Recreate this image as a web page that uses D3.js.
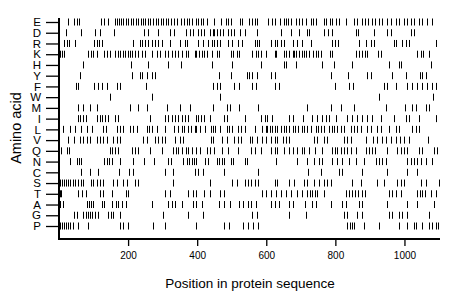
<!DOCTYPE html>
<meta charset="utf-8">
<svg width="460" height="299"></svg>
<script src="https://cdn.jsdelivr.net/npm/d3@7"></script>
<style>
  body { margin: 0; background: #fff; }
  * { font-family: 'Liberation Sans', Arial, sans-serif; }
</style>
<script>
// residues, top to bottom
var aminoAcids = ["E","D","R","K","H","Y","F","W","M","I","L","V","Q","N","C","S","T","A","G","P"];
var xTicks = [200, 400, 600, 800, 1000];
var seqLength = 1100;

// positions of each residue in the sequence
var posE = [26,43,52,58,121,130,141,162,167,173,179,185,193,199,208,214,222,228,237,243,248,257,263,271,280,286,294,300,309,315,323,332,341,352,361,370,375,384,396,401,410,416,427,450,468,482,488,497,523,531,551,560,566,572,606,618,624,641,650,658,664,673,687,696,704,716,730,736,745,768,774,785,791,803,811,831,855,863,878,886,895,907,915,927,935,950,961,976,985,999,1008,1019,1028,1042,1051,1065,1080];
var posD = [20,64,104,118,159,245,257,286,320,332,367,378,387,401,410,419,436,445,450,456,465,476,488,499,508,523,537,572,644,673,696,719,725,768,779,791,860,866,912,950,961,1019,1028];
var posR = [14,23,29,46,101,110,115,124,214,234,240,248,257,268,277,286,297,320,349,364,370,401,416,430,442,450,456,465,488,502,517,531,566,572,580,615,624,632,644,652,676,690,704,730,791,800,808,869,889,904,912,970,976,993,1005,1013,1091];
var posK = [3,9,14,84,92,98,110,130,139,147,162,170,176,185,191,199,205,211,219,228,240,248,268,283,292,306,315,326,335,344,355,367,372,393,398,404,413,419,427,442,456,462,499,505,514,520,560,569,577,586,600,624,629,652,658,667,676,681,687,696,704,710,716,725,736,745,751,759,785,791,860,869,878,886,892,924,933,1036,1048,1054,1071];
var posH = [69,208,257,315,352,442,502,586,652,658,687,762,797,849,956,985,990,1077];
var posY = [61,211,234,240,254,268,277,462,499,543,551,560,572,615,624,788,837,892,904,964,1005,1045,1051,1063];
var posF = [49,55,101,113,124,139,167,176,251,445,456,465,508,520,560,569,624,638,800,840,852,941,950,976,1008,1022,1036,1051,1065,1080,1091];
var posW = [147,268,465,927,1083];
var posM = [55,69,89,110,205,228,254,312,349,378,445,485,494,520,575,719,788,817,855,947,1002,1022,1034,1063,1071];
var posI = [55,61,69,78,110,118,124,133,141,162,170,263,306,315,326,335,344,355,364,372,396,401,410,419,436,479,485,537,586,595,603,618,667,676,707,733,748,762,774,782,803,834,849,863,878,892,907,933,970,1005,1013,1042,1091];
var posL = [12,32,46,64,81,95,127,136,167,176,185,205,214,225,254,260,268,283,306,332,344,355,361,372,381,393,398,407,422,439,445,453,465,485,491,502,517,528,537,566,589,598,603,612,618,626,632,644,650,658,667,676,684,693,702,710,719,730,745,751,759,768,782,791,797,805,817,826,846,855,863,875,892,904,921,933,956,976,985,1022,1034,1042];
var posV = [26,43,61,69,81,89,110,118,127,139,156,167,176,243,254,277,286,297,306,335,349,358,439,445,473,485,508,517,528,554,560,572,589,598,615,624,632,647,658,667,739,748,768,777,826,834,846,889,909,921,935,947,961,976,987,999,1013,1068];
var posQ = [6,23,29,147,153,162,170,211,219,228,263,297,329,338,344,355,367,372,384,398,407,427,436,450,473,488,517,557,566,586,615,624,632,652,667,676,690,702,710,725,742,762,791,800,805,817,826,834,846,860,889,898,907,915,950,979,990,999,1008,1042,1051,1086,1094];
var posN = [32,52,58,64,130,139,144,153,176,214,245,274,315,323,358,370,375,384,390,398,424,430,456,462,471,479,499,505,537,543,629,690,719,739,753,762,791,805,820,840,860,883,918,927,935,947,1008,1019,1028,1036,1048,1063,1080];
var posC = [64,89,113,173,202,214,306,329,393,401,416,479,577,722,759,811,820,878,950,1008,1036];
var posS = [3,9,14,20,26,32,40,46,55,64,69,92,98,110,118,127,156,167,185,196,219,228,329,436,502,514,537,546,557,566,575,624,632,667,681,710,719,739,753,768,777,788,849,875,921,941,979,990,999,1048,1063,1100];
var posT = [3,6,55,66,78,118,127,153,193,199,306,320,372,387,398,419,436,465,479,589,600,615,629,644,658,673,690,702,719,728,733,742,748,768,831,840,849,857,866,878,886,956,964,976,990,1036,1045,1051,1060,1077,1091];
var posA = [3,12,81,87,92,98,124,130,153,165,170,182,193,268,315,326,335,355,387,398,413,462,479,494,520,534,546,557,569,615,624,638,667,676,713,733,745,788,820,831,869,878,950,1008,1036,1086];
var posG = [43,52,69,78,84,89,95,104,113,141,150,156,176,300,372,416,560,572,667,716,826,834,863,878,956,964,985,993,1008,1071];
var posP = [3,9,14,20,26,32,40,55,84,176,185,199,271,306,398,479,491,534,546,563,575,834,843,849,855,883,927,985,1008,1028,1034,1051,1071,1080,1091,1097];

var rows = [posE,posD,posR,posK,posH,posY,posF,posW,posM,posI,posL,posV,posQ,posN,posC,posS,posT,posA,posG,posP];

var svg = d3.select("svg"),
    margin = {top: 22, right: 20, bottom: 73, left: 59},
    width = +svg.attr("width") - margin.left - margin.right,
    height = +svg.attr("height") - margin.top - margin.bottom;

var x = d3.scaleLinear()
    .domain([0, seqLength])
    .range([margin.left, margin.left + width - 1]);

var y = d3.scalePoint()
    .domain(aminoAcids)
    .range([margin.top, margin.top + 204]);

var axisY = 239;

// residue marks
var marks = [];
rows.forEach(function(r, i) {
  r.forEach(function(p) { marks.push({aa: aminoAcids[i], pos: p}); });
});

svg.append("g").selectAll("line")
    .data(marks)
  .enter().append("line")
    .attr("x1", function(d) { return Math.round(x(d.pos)) + 0.5; })
    .attr("x2", function(d) { return Math.round(x(d.pos)) + 0.5; })
    .attr("y1", function(d) { return y(d.aa) - 3.5; })
    .attr("y2", function(d) { return y(d.aa) + 3.5; })
    .attr("stroke", "#000")
    .attr("stroke-width", 1);

// axes
var gx = svg.append("g")
    .attr("transform", "translate(0," + axisY + ")")
    .call(d3.axisBottom(x).tickValues(xTicks).tickFormat(d3.format("d"))
      .tickSize(7).tickPadding(6).tickSizeOuter(0));
gx.select(".domain").remove();
gx.selectAll(".tick line").attr("stroke", "#000").attr("stroke-width", 1.3);
gx.selectAll(".tick text").attr("font-size", 10).attr("fill", "#000");

var gy = svg.append("g")
    .attr("transform", "translate(" + margin.left + ",0)")
    .call(d3.axisLeft(y).tickSize(13).tickPadding(5).tickSizeOuter(0));
gy.select(".domain").remove();
gy.selectAll(".tick line").attr("stroke", "#000").attr("stroke-width", 1.3);
gy.selectAll(".tick text").attr("font-size", 11.5).attr("fill", "#000");

svg.append("line")
    .attr("x1", margin.left).attr("x2", margin.left)
    .attr("y1", 18).attr("y2", axisY + 1)
    .attr("stroke", "#000").attr("stroke-width", 2);
svg.append("line")
    .attr("x1", margin.left - 1).attr("x2", x(seqLength) + 1)
    .attr("y1", axisY).attr("y2", axisY)
    .attr("stroke", "#000").attr("stroke-width", 2);

svg.append("text")
    .attr("x", 250)
    .attr("y", 288)
    .attr("text-anchor", "middle")
    .style("font-size", "13.5px")
    .text("Position in protein sequence");

svg.append("text")
    .attr("transform", "translate(21,128) rotate(-90)")
    .attr("text-anchor", "middle")
    .style("font-size", "14.5px")
    .text("Amino acid");
</script>
